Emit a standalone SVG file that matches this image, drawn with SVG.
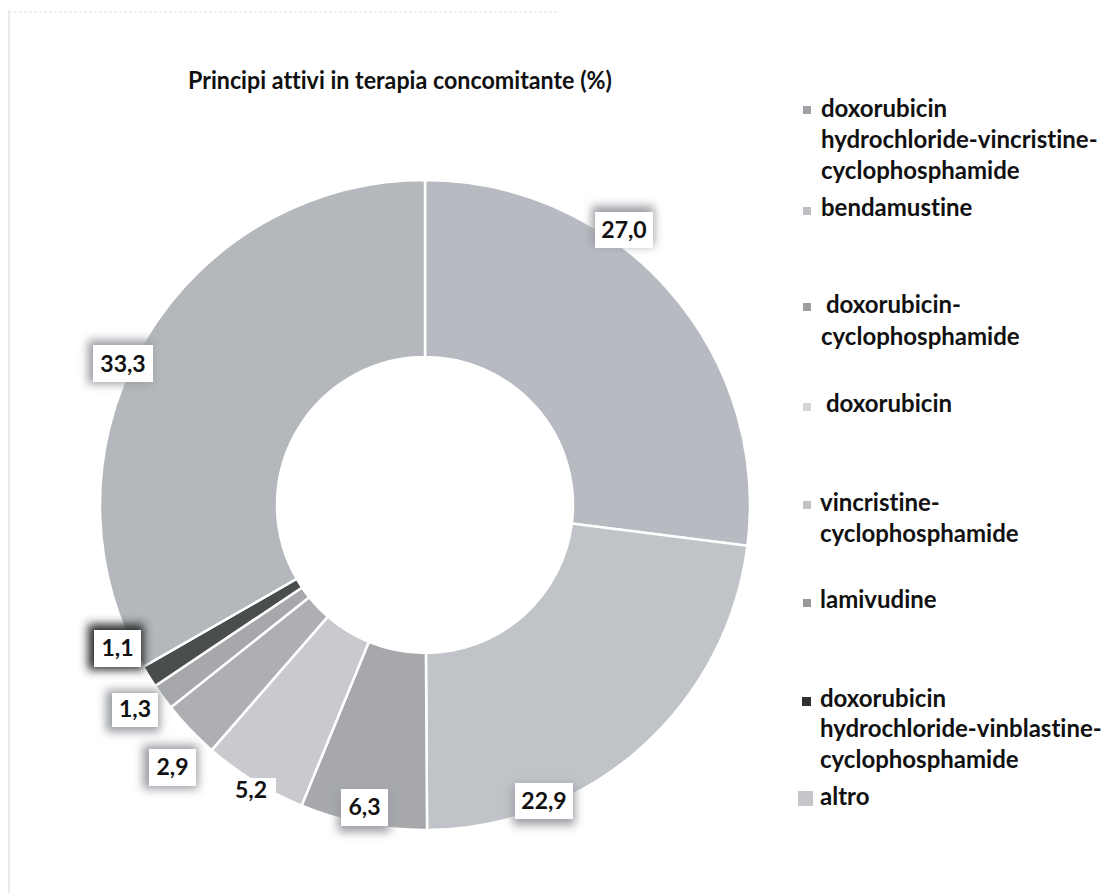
<svg xmlns="http://www.w3.org/2000/svg" width="1118" height="893" viewBox="0 0 1118 893">
<style>
  text { font-family: Lato, "Open Sans", sans-serif; font-weight: bold; fill: #111; font-variant-ligatures: none; }
  .title { font-size: 25px; }
  .lbl { font-size: 23px; text-anchor: middle; }
  .leg { font-size: 24px; }
  .slice { stroke: #fff; stroke-width: 2.5; }
  .box { fill: #fff; }
  .glow { fill: #9a9da2; filter: url(#blur); }
  .glowdark { fill: #2a2d2e; filter: url(#blur); }
</style>
<defs>
  <filter id="blur" x="-50%" y="-50%" width="200%" height="200%">
    <feGaussianBlur stdDeviation="5"/>
  </filter>
</defs>
<rect width="1118" height="893" fill="#fff"/>
<line x1="9" y1="10" x2="9" y2="893" stroke="#d6d6d6" stroke-width="1"/>
<line x1="9" y1="12" x2="560" y2="12" stroke="#e2e2e2" stroke-width="1" stroke-dasharray="3 2"/>

<text class="title" x="188" y="89" textLength="424" lengthAdjust="spacingAndGlyphs">Principi attivi in terapia concomitante (%)</text>

<g id="donut">
  <path id="s1" class="slice" fill="#b7bac0" d="M425,180 A325,325 0 0 1 747.44,545.73 L571.83,523.55 A148,148 0 0 0 425,357 Z"/>
  <path id="s2" class="slice" fill="#c0c3c8" d="M747.44,545.73 A325,325 0 0 1 427.04,829.99 L425.93,653 A148,148 0 0 0 571.83,523.55 Z"/>
  <path id="s3" class="slice" fill="#a6a8ac" d="M427.04,829.99 A325,325 0 0 1 301.57,805.65 L368.79,641.91 A148,148 0 0 0 425.93,653 Z"/>
  <path id="s4" class="slice" fill="#c8cace" d="M301.57,805.65 A325,325 0 0 1 211.6,750.13 L327.82,616.63 A148,148 0 0 0 368.79,641.91 Z"/>
  <path id="s5" class="slice" fill="#adafb2" d="M211.6,750.13 A325,325 0 0 1 170.69,707.37 L309.19,597.16 A148,148 0 0 0 327.82,616.63 Z"/>
  <path id="s6" class="slice" fill="#a6a8ab" d="M170.69,707.37 A325,325 0 0 1 155.07,686.02 L302.08,587.43 A148,148 0 0 0 309.19,597.16 Z"/>
  <path id="s7" class="slice" fill="#4a4d4e" d="M155.07,686.02 A325,325 0 0 1 143.2,666.91 L296.67,578.73 A148,148 0 0 0 302.08,587.43 Z"/>
  <path id="s8" class="slice" fill="#b4b7bc" d="M143.2,666.91 A325,325 0 0 1 425,180 L425,357 A148,148 0 0 0 296.67,578.73 Z"/>
</g>

<g id="labels">
  <g id="l1"><rect class="glow" x="592" y="206" width="62" height="40"/><rect class="box" x="595" y="212" width="58" height="36"/><text class="lbl" x="624" y="238">27,0</text></g>
  <g id="l2"><rect class="glow" x="513" y="785" width="62" height="40"/><rect class="box" x="515" y="783" width="58" height="36"/><text class="lbl" x="544" y="809">22,9</text></g>
  <g id="l3"><rect class="glow" x="338" y="792" width="52" height="40"/><rect class="box" x="341" y="789" width="47" height="37"/><text class="lbl" x="364.5" y="815">6,3</text></g>
  <g id="l4"><rect class="box" x="226" y="778" width="50" height="35"/><text class="lbl" x="251" y="798">5,2</text></g>
  <g id="l5"><rect class="glow" x="143" y="745" width="55" height="44"/><rect class="box" x="149" y="749" width="47" height="37"/><text class="lbl" x="172.5" y="775">2,9</text></g>
  <g id="l6"><rect class="glow" x="106" y="690" width="54" height="42"/><rect class="box" x="112" y="693" width="46" height="34"/><text class="lbl" x="135" y="717">1,3</text></g>
  <g id="l7"><rect class="glowdark" x="88" y="624" width="56" height="46"/><rect class="box" x="94" y="630" width="47" height="37"/><text class="lbl" x="117.5" y="656">1,1</text></g>
  <g id="l8"><rect class="glow" x="88" y="340" width="64" height="44"/><rect class="box" x="93" y="345" width="60" height="37"/><text class="lbl" x="123" y="372">33,3</text></g>
</g>

<g id="legend">
  <g id="k1"><rect x="803" y="106" width="8" height="8" fill="#9ea1a6"/><text class="leg" x="821" y="117">doxorubicin</text><text class="leg" x="821" y="148">hydrochloride-vincristine-</text><text class="leg" x="821" y="179">cyclophosphamide</text></g>
  <g id="k2"><rect x="803" y="207" width="8" height="8" fill="#bcbfc4"/><text class="leg" x="821" y="216">bendamustine</text></g>
  <g id="k3"><rect x="803" y="303" width="8" height="8" fill="#9c9ea2"/><text class="leg" x="826" y="313">doxorubicin-</text><text class="leg" x="821" y="345">cyclophosphamide</text></g>
  <g id="k4"><rect x="803" y="403" width="8" height="8" fill="#d3d5d8"/><text class="leg" x="826" y="412">doxorubicin</text></g>
  <g id="k5"><rect x="803" y="501" width="8" height="8" fill="#c0c2c6"/><text class="leg" x="820" y="511">vincristine-</text><text class="leg" x="820" y="542">cyclophosphamide</text></g>
  <g id="k6"><rect x="803" y="599" width="8" height="8" fill="#96989c"/><text class="leg" x="820" y="608">lamivudine</text></g>
  <g id="k7"><rect x="802" y="697" width="9" height="9" fill="#2e3031"/><text class="leg" x="820" y="707">doxorubicin</text><text class="leg" x="820" y="737">hydrochloride-vinblastine-</text><text class="leg" x="820" y="768">cyclophosphamide</text></g>
  <g id="k8"><rect x="798" y="791" width="15" height="15" fill="#c4c6ca"/><text class="leg" x="820" y="805">altro</text></g>
</g>
</svg>
